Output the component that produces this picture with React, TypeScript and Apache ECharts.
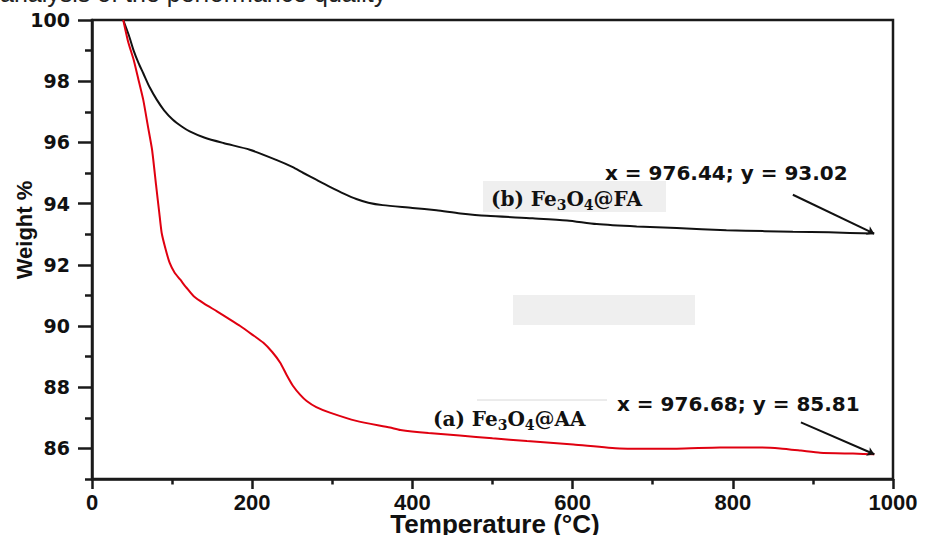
import React, { useEffect, useRef } from "react";
import * as echarts from "echarts";

// TGA curves: temperature (°C) vs remaining weight (%)
const faCurve: [number, number][] = [
  [39, 100], [46, 99.5], [52, 99.0], [58, 98.6], [64, 98.26], [72, 97.8], [81, 97.39],
  [90, 97.05], [101, 96.74], [112, 96.52], [122, 96.36], [140, 96.16], [164, 95.98],
  [197, 95.76], [230, 95.43], [250, 95.2], [264, 95.0], [280, 94.78], [297, 94.55],
  [315, 94.32], [330, 94.15], [345, 94.03], [363, 93.95], [400, 93.86], [430, 93.78],
  [460, 93.68], [493, 93.6], [550, 93.52], [593, 93.45], [630, 93.33], [680, 93.25],
  [730, 93.2], [792, 93.13], [840, 93.1], [875, 93.08], [920, 93.06], [976.44, 93.02],
];

const aaCurve: [number, number][] = [
  [39, 100], [45, 99.3], [52, 98.7], [58, 98.05], [64, 97.39], [70, 96.5], [75, 95.76],
  [80, 94.6], [84, 93.7], [87, 93.04], [92, 92.5], [97, 92.06], [103, 91.75], [110, 91.52],
  [118, 91.25], [127, 90.97], [140, 90.73], [156, 90.48], [170, 90.25], [185, 90.0],
  [200, 89.72], [214, 89.45], [225, 89.15], [235, 88.8], [243, 88.4], [251, 88.04],
  [260, 87.75], [268, 87.55], [280, 87.35], [297, 87.17], [330, 86.9], [372, 86.68],
  [385, 86.6], [420, 86.5], [459, 86.42], [500, 86.33], [543, 86.24], [601, 86.13],
  [659, 86.0], [730, 85.99], [784, 86.03], [834, 86.03], [859, 86.0], [885, 85.93],
  [909, 85.86], [950, 85.83], [976.68, 85.81],
];

// arrow tails pointing to the final readings
const faArrowStart: [number, number] = [875, 94.29];
const aaArrowStart: [number, number] = [885, 86.85];

const yMajorTicks = [86, 88, 90, 92, 94, 96, 98, 100];
const yMinorTicks = [85, 87, 89, 91, 93, 95, 97, 99];
const xMajorTicks = [0, 200, 400, 600, 800, 1000];

const faEnd = faCurve[faCurve.length - 1];
const aaEnd = aaCurve[aaCurve.length - 1];

const AXIS = "#1a1a1a";
const BOLD_SANS = "Liberation Sans, Arial, sans-serif";

export default function App() {
  const ref = useRef<HTMLDivElement>(null);

  useEffect(() => {
    if (!ref.current) return;
    const chart = echarts.init(ref.current, null, { renderer: "svg" });

    const serifRich = {
      m: {
        fontFamily: "DejaVu Serif",
        fontWeight: "bold",
        fontSize: 20,
        lineHeight: 26,
        verticalAlign: "middle",
        fill: "#111",
      },
      s: {
        fontFamily: "DejaVu Serif",
        fontWeight: "bold",
        fontSize: 14,
        lineHeight: 14,
        verticalAlign: "bottom",
        fill: "#111",
      },
    };
    const serifLabel = { verticalAlign: "middle", rich: serifRich };
    const readout = {
      fontFamily: "DejaVu Sans",
      fontWeight: "bold",
      fontSize: 20,
      fill: "#111",
      verticalAlign: "middle",
    };

    chart.setOption({
      animation: false,
      backgroundColor: "#ffffff",
      grid: {
        left: 92,
        right: 32,
        top: 20,
        bottom: 56,
        outerBoundsMode: "none",
        containLabel: false,
        show: true,
        borderColor: AXIS,
        borderWidth: 2.5,
        backgroundColor: "transparent",
      },
      xAxis: {
        type: "value",
        min: 0,
        max: 1000,
        interval: 200,
        axisLine: { show: true, lineStyle: { color: AXIS, width: 2.5 } },
        axisTick: { show: true, inside: false, length: 10, lineStyle: { color: AXIS, width: 2.5 } },
        minorTick: { show: true, splitNumber: 2, length: 5.5, lineStyle: { color: AXIS, width: 2.5 } },
        axisLabel: {
          margin: 12,
          fontFamily: BOLD_SANS,
          fontWeight: "bold",
          fontSize: 22,
          color: "#111",
          customValues: xMajorTicks,
          formatter: (v: number) => String(v),
        },
        splitLine: { show: false },
      },
      yAxis: [
        {
          type: "value",
          min: 85,
          max: 100,
          axisLine: { show: true, lineStyle: { color: AXIS, width: 2.5 } },
          axisTick: { show: true, length: 14, customValues: yMajorTicks, lineStyle: { color: AXIS, width: 2.5 } },
          axisLabel: {
            customValues: yMajorTicks,
            margin: 22,
            fontFamily: "DejaVu Sans",
            fontWeight: "bold",
            fontSize: 19,
            color: "#111",
            formatter: (v: number) => String(v),
          },
          splitLine: { show: false },
        },
        {
          type: "value",
          min: 85,
          max: 100,
          position: "left",
          axisLine: { show: false },
          axisTick: { show: true, length: 7, customValues: yMinorTicks, lineStyle: { color: AXIS, width: 2.5 } },
          axisLabel: { show: false },
          splitLine: { show: false },
        },
      ],
      series: [
        {
          name: "(b) Fe3O4@FA",
          type: "line",
          data: faCurve,
          smooth: 0.25,
          showSymbol: false,
          lineStyle: { color: "#111", width: 2 },
        },
        {
          name: "(a) Fe3O4@AA",
          type: "line",
          data: aaCurve,
          smooth: 0.2,
          showSymbol: false,
          lineStyle: { color: "#e00010", width: 2 },
        },
        {
          name: "pointers",
          type: "lines",
          coordinateSystem: "cartesian2d",
          xAxisIndex: 0,
          yAxisIndex: 0,
          symbol: ["none", "arrow"],
          symbolSize: 7,
          silent: true,
          z: 5,
          lineStyle: { color: "#111", width: 2, opacity: 1, curveness: 0 },
          data: [
            { coords: [faArrowStart, faEnd] },
            { coords: [aaArrowStart, aaEnd] },
          ],
        },
      ],
      graphic: [
        {
          type: "text",
          x: 0,
          y: 5,
          style: {
            text: "analysis of the performance quality",
            fontFamily: "Liberation Sans",
            fontSize: 25,
            fill: "#222",
            verticalAlign: "bottom",
          },
        },
        {
          type: "text",
          x: 24,
          y: 230,
          rotation: Math.PI / 2,
          style: {
            text: "Weight %",
            fontFamily: BOLD_SANS,
            fontWeight: "bold",
            fontSize: 22,
            fill: "#111",
            align: "center",
            verticalAlign: "middle",
          },
        },
        {
          type: "text",
          x: 495,
          y: 524,
          style: {
            text: "Temperature (°C)",
            fontFamily: BOLD_SANS,
            fontWeight: "bold",
            fontSize: 26,
            fill: "#111",
            align: "center",
            verticalAlign: "middle",
          },
        },
        {
          type: "rect",
          shape: { x: 513, y: 295, width: 182, height: 30 },
          style: { fill: "#efefef" },
          z: -1,
        },
        {
          type: "rect",
          shape: { x: 483, y: 181, width: 183, height: 31 },
          style: { fill: "#efefef" },
          z: -1,
        },
        {
          type: "line",
          shape: { x1: 477, y1: 400, x2: 607, y2: 400 },
          style: { stroke: "#d8d8d8", lineWidth: 1 },
        },
        {
          type: "text",
          x: 491,
          y: 199,
          style: { text: "{m|(b) Fe}{s|3}{m|O}{s|4}{m|@FA}", ...serifLabel },
        },
        {
          type: "text",
          x: 433,
          y: 419,
          style: { text: "{m|(a) Fe}{s|3}{m|O}{s|4}{m|@AA}", ...serifLabel },
        },
        {
          type: "text",
          x: 605,
          y: 173,
          style: { text: `x = ${faEnd[0].toFixed(2)}; y = ${faEnd[1].toFixed(2)}`, ...readout },
        },
        {
          type: "text",
          x: 617,
          y: 404,
          style: { text: `x = ${aaEnd[0].toFixed(2)}; y = ${aaEnd[1].toFixed(2)}`, ...readout },
        },
      ],
    });

    return () => chart.dispose();
  }, []);

  return (
    <div
      ref={ref}
      style={{ position: "fixed", left: 0, top: 0, width: 925, height: 535, background: "#fff" }}
    />
  );
}
